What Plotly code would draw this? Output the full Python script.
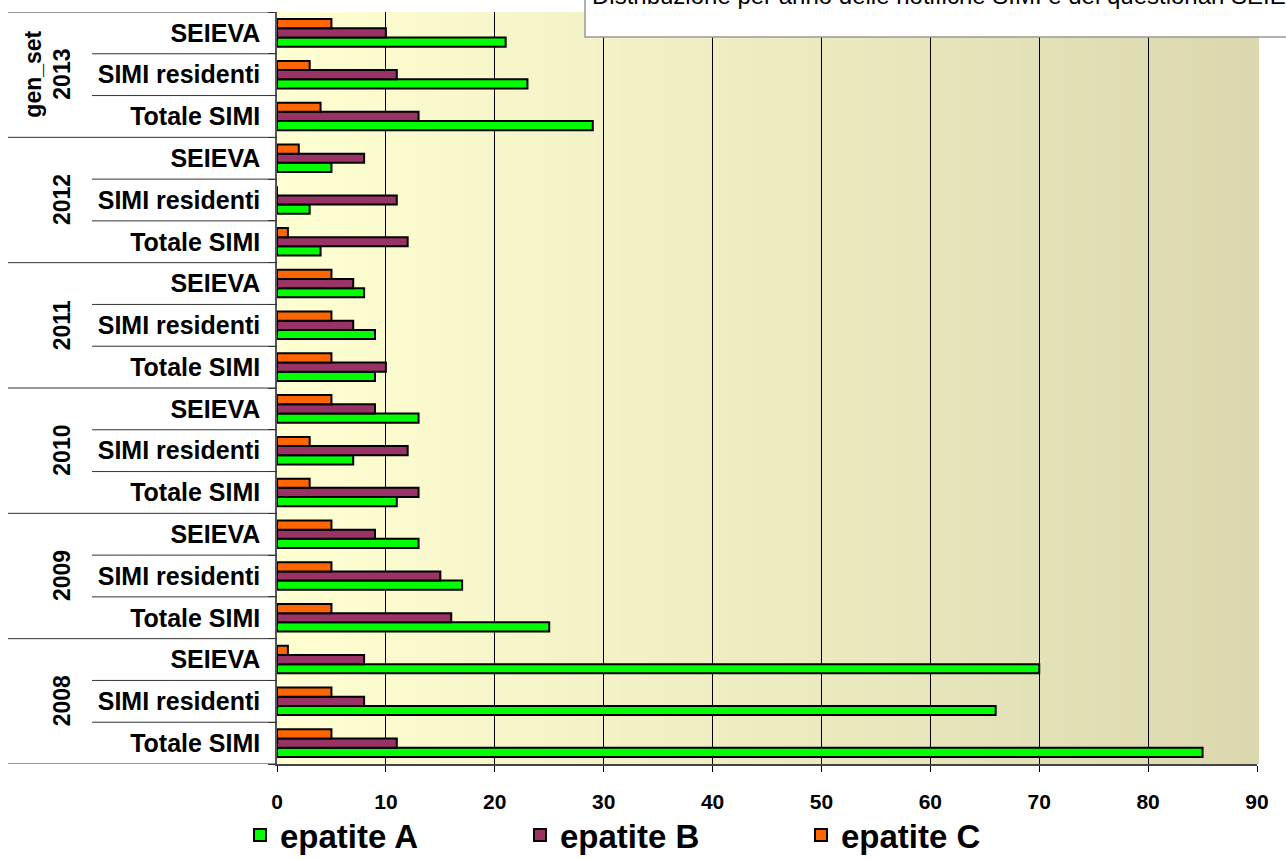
import plotly.graph_objects as go

# Data: cases per year and source, listed bottom-to-top within each year
years = ["2008", "2009", "2010", "2011", "2012", "2013"]
sources = ["Totale SIMI", "SIMI residenti", "SEIEVA"]

epatite_a = {
    "2008": [85, 66, 70],
    "2009": [25, 17, 13],
    "2010": [11, 7, 13],
    "2011": [9, 9, 8],
    "2012": [4, 3, 5],
    "2013": [29, 23, 21],
}
epatite_b = {
    "2008": [11, 8, 8],
    "2009": [16, 15, 9],
    "2010": [13, 12, 9],
    "2011": [10, 7, 7],
    "2012": [12, 11, 8],
    "2013": [13, 11, 10],
}
epatite_c = {
    "2008": [5, 5, 1],
    "2009": [5, 5, 5],
    "2010": [3, 3, 5],
    "2011": [5, 5, 5],
    "2012": [1, 0, 2],
    "2013": [4, 3, 5],
}

x_ticks = list(range(0, 91, 10))
title_text = "Distribuzione per anno delle notifiche SIMI e dei questionari SEIEVA"

# Flatten to unique category keys (year + source)
keys, labels = [], []
for yr in years:
    for src in sources:
        keys.append(f"{yr} {src}")
        labels.append(src)


def flat(d):
    return [v for yr in years for v in d[yr]]


series = [
    ("epatite A", flat(epatite_a), "#00FF00", "legend"),
    ("epatite B", flat(epatite_b), "#993366", "legend2"),
    ("epatite C", flat(epatite_c), "#FF6600", "legend3"),
]

FONT = "Liberation Sans, Arial"

fig = go.Figure()
for name, vals, color, leg in series:
    fig.add_trace(go.Bar(
        x=vals, y=keys, name=name, orientation="h", legend=leg,
        marker=dict(color=color, line=dict(color="black", width=2)),
    ))

# Figure geometry (pixels)
W, H = 1286, 859
ml, mr, mt, mb = 277, 29, 12, 95
pw, ph = W - ml - mr, H - mt - mb


def px_x(p):
    return (p - ml) / pw


def px_y(p):
    return (H - mb - p) / ph


shapes = []
# Plot-area gradient background, light yellow to khaki
n = 120
c0, c1 = (255, 255, 210), (219, 216, 175)
for i in range(n):
    t = i / (n - 1)
    col = tuple(round(a + (b - a) * t) for a, b in zip(c0, c1))
    shapes.append(dict(
        type="rect", xref="paper", yref="paper",
        x0=i / n, x1=(i + 1) / n + 0.002, y0=0, y1=1,
        fillcolor=f"rgb{col}", line=dict(width=0), layer="below",
    ))

# Category divider lines in the label column
for i in range(len(keys) + 1):
    x0 = px_x(8) if i % 3 == 0 else px_x(92)
    shapes.append(dict(
        type="line", xref="paper", yref="y",
        x0=x0, x1=0, y0=i - 0.5, y1=i - 0.5,
        line=dict(color="#333333", width=1),
    ))

# Title box running past the top edge
shapes.append(dict(
    type="rect", xref="paper", yref="paper",
    x0=px_x(585), x1=px_x(1300), y0=px_y(37), y1=px_y(-20),
    fillcolor="white", line=dict(color="#999999", width=1.5), layer="above",
))

annotations = []
for j, yr in enumerate(years):
    annotations.append(dict(
        text=f"<b>{yr}</b>", xref="paper", yref="y",
        x=px_x(62), y=j * 3 + 1, showarrow=False, textangle=-90,
        xanchor="center", yanchor="middle",
        font=dict(family=FONT, size=23, color="black"),
    ))
annotations.append(dict(
    text="<b>gen_set</b>", xref="paper", yref="y",
    x=px_x(33), y=len(keys) - 2, showarrow=False, textangle=-90,
    xanchor="center", yanchor="middle",
    font=dict(family=FONT, size=23, color="black"),
))
annotations.append(dict(
    text=title_text, xref="paper", yref="paper",
    x=px_x(590), y=px_y(-5), showarrow=False,
    xanchor="left", yanchor="middle",
    font=dict(family=FONT, size=24, color="black"),
))


def legend_at(px_left):
    return dict(
        orientation="h", xref="container", yref="container",
        x=px_left / W, y=1 - 835 / H, xanchor="left", yanchor="middle",
        font=dict(family=FONT, size=33, color="black", weight="bold"),
        bgcolor="rgba(0,0,0,0)", borderwidth=0,
    )


fig.update_layout(
    width=W, height=H,
    margin=dict(l=ml, r=mr, t=mt, b=mb, pad=0),
    paper_bgcolor="white", plot_bgcolor="rgba(0,0,0,0)",
    barmode="group", bargap=0.34, bargroupgap=0,
    shapes=shapes, annotations=annotations,
    font=dict(family=FONT, color="black"),
    showlegend=True,
    legend=legend_at(240),
    legend2=legend_at(520),
    legend3=legend_at(801),
    xaxis=dict(
        range=[0, 90], tickvals=x_ticks, ticktext=[f"<b>{v}</b>" for v in x_ticks],
        showgrid=True, gridcolor="black", gridwidth=1, zeroline=False,
        showline=True, linecolor="#444444", linewidth=1.5,
        ticks="outside", ticklen=6, tickcolor="black",
        tickfont=dict(size=21, color="black"), ticklabelstandoff=12,
        automargin=False,
    ),
    yaxis=dict(
        type="category", categoryorder="array", categoryarray=keys,
        tickvals=keys, ticktext=[f"<b>{s}</b>" for s in labels],
        tickson="boundaries", ticks="outside", ticklen=7, tickcolor="#333333",
        showline=True, linecolor="#555555", linewidth=1.5,
        showgrid=False, range=[-0.5, len(keys) - 0.5],
        tickfont=dict(size=25, color="black"), ticklabelstandoff=10,
        automargin=False,
    ),
)

fig.write_html("out.html")
